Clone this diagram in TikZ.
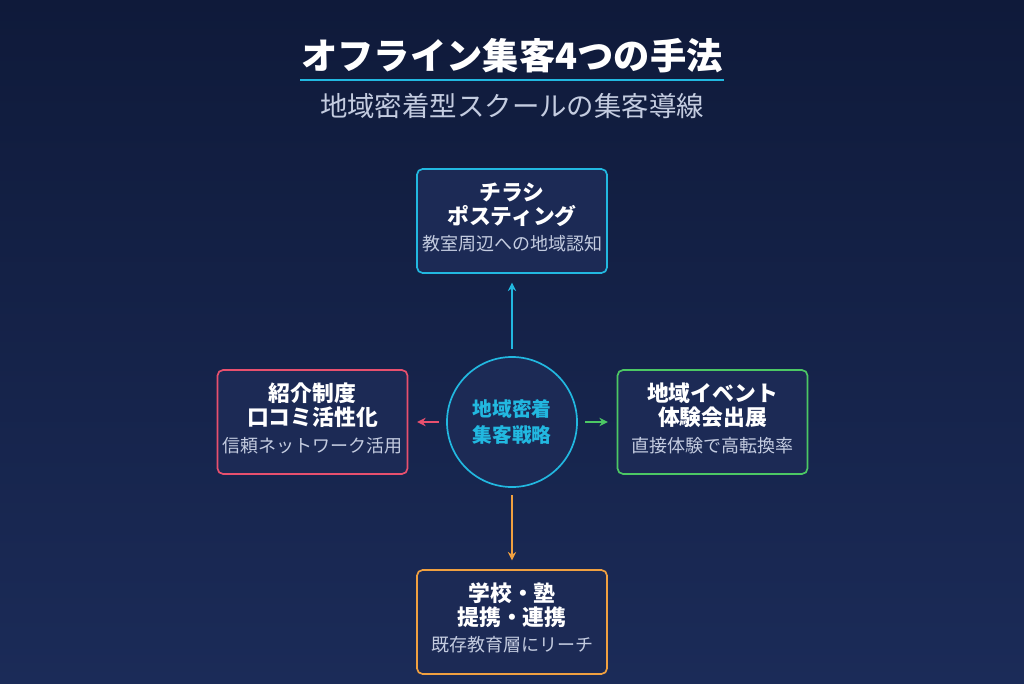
\documentclass[tikz,border=0pt]{standalone}
\usepackage{fontspec}
\setmainfont{Noto Sans CJK JP}
\usetikzlibrary{arrows.meta}
\definecolor{bgtop}{HTML}{0F1A3A}
\definecolor{bgbot}{HTML}{1B2B58}
\definecolor{boxfill}{HTML}{1C2A55}
\definecolor{subtxt}{HTML}{C4CCE0}
\definecolor{cyanc}{HTML}{22B8E0}
\definecolor{pinkc}{HTML}{E8506E}
\definecolor{greenc}{HTML}{4CC864}
\definecolor{orangec}{HTML}{F0A040}
\tikzset{
  card/.style={draw=#1, line width=1.2pt, fill=boxfill, rounded corners=4pt,
    minimum width=4.75cm, minimum height=2.6cm, align=center, inner sep=0pt},
  ttl/.style={font=\fontsize{15.5}{17}\selectfont\bfseries, text=white},
  dsc/.style={font=\fontsize{12.8}{14}\selectfont, text=subtxt},
  link/.style={draw=#1, line width=0.9pt, -{Stealth[length=6pt,width=6pt]},
    shorten <=0.18cm, shorten >=0.22cm}
}
\begin{document}
\begin{tikzpicture}[x=0.025cm,y=-0.025cm]
\shade[top color=bgtop, bottom color=bgbot] (0,0) rectangle (1024,683);
\useasboundingbox (0,0) rectangle (1024,683);
% title
\node[font=\fontsize{25.8}{28}\selectfont\bfseries, text=white] (title) at (512,56) {オフライン集客4つの手法};
\draw[cyanc, line width=2pt] (300,80) -- (724,80);
\node[font=\fontsize{19.5}{21}\selectfont, text=subtxt] (sub) at (512,106) {地域密着型スクールの集客導線};
% center
\node[circle, draw=cyanc, line width=1.2pt, fill=boxfill, minimum size=3.25cm,
  align=center, text=cyanc, font=\fontsize{14}{19}\selectfont\bfseries] (core) at (512,422) {地域密着\\集客戦略};
% cards
\node[card=cyanc] (flyer) at (512,221) {};
\node[ttl, align=center] at (512,205) {チラシ\\ポスティング};
\node[dsc] at (512,244) {教室周辺への地域認知};
\node[card=pinkc] (refer) at (312.5,422) {};
\node[ttl, align=center] at (312.5,405) {紹介制度\\口コミ活性化};
\node[dsc] at (312.5,446) {信頼ネットワーク活用};
\node[card=greenc] (event) at (712.5,422) {};
\node[ttl, align=center] at (712.5,405) {地域イベント\\体験会出展};
\node[dsc] at (712.5,446) {直接体験で高転換率};
\node[card=orangec] (school) at (512,622) {};
\node[ttl, align=center] at (512,605) {学校・塾\\提携・連携};
\node[dsc] at (512,645) {既存教育層にリーチ};
% links
\draw[link=cyanc] (core) -- (flyer);
\draw[link=pinkc] (core) -- (refer);
\draw[link=greenc] (core) -- (event);
\draw[link=orangec] (core) -- (school);
\end{tikzpicture}
\end{document}
